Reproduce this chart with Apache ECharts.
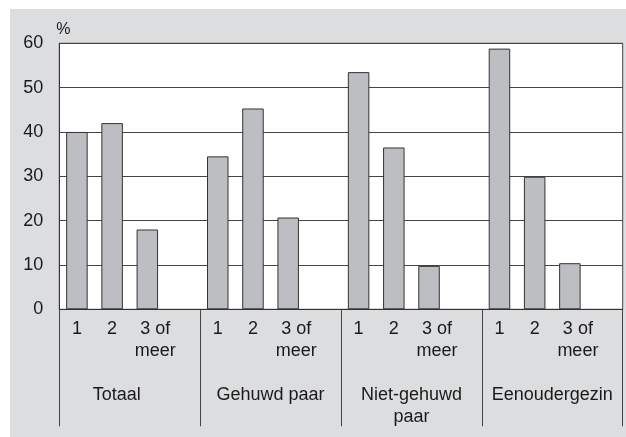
<!DOCTYPE html>
<html>
<head>
<meta charset="utf-8">
<script src="https://cdn.jsdelivr.net/npm/echarts@6/dist/echarts.min.js"></script>
<style>
html,body{margin:0;padding:0;background:#fff;}
#chart{position:absolute;left:10px;top:9px;width:616px;height:428px;}
</style>
</head>
<body>
<div id="chart"></div>
<script>
// Data
var groups = ['Totaal', 'Gehuwd paar', 'Niet-gehuwd\npaar', 'Eenoudergezin'];
var sizes = ['1', '2', '3 of\nmeer'];
var totaal = [40, 42, 18];
var gehuwdPaar = [34.5, 45.3, 20.7];
var nietGehuwdPaar = [53.5, 36.5, 9.8];
var eenoudergezin = [58.8, 29.9, 10.4];
var yTicks = [0, 10, 20, 30, 40, 50, 60];

var groupValues = [totaal, gehuwdPaar, nietGehuwdPaar, eenoudergezin];
var cats = [], vals = [];
groupValues.forEach(function (g, gi) {
  sizes.forEach(function (s, si) {
    cats.push(s);
    vals.push(g[si]);
  });
  cats.push(' ' + gi); // empty spacer slot
  vals.push('-');
});

var font = "'Liberation Sans', Arial, Helvetica, sans-serif";
var FS = 18;
var chart = echarts.init(document.getElementById('chart'));
chart.setOption({
  backgroundColor: '#dcdddf',
  animation: false,
  textStyle: { fontFamily: font },
  grid: {
    left: 49.3, top: 34.3, right: 3.3, bottom: 127.7,
    show: true, backgroundColor: '#ffffff', borderColor: '#444', borderWidth: 1,
    containLabel: false
  },
  xAxis: [{
    type: 'category',
    data: cats,
    position: 'bottom',
    axisLine: { show: true, lineStyle: { color: '#333', width: 1 } },
    axisTick: { show: false },
    axisLabel: {
      interval: 0, fontSize: FS, color: '#1a1a1a', fontFamily: font,
      lineHeight: 22, margin: 9,
      formatter: function (v) {
        if (v.charAt(0) === ' ') return '';
        if (v.indexOf('\n') >= 0) {
          return v.split('\n').map(function (l) { return '{o|' + l + '}'; }).join('\n');
        }
        return v;
      },
      rich: { o: { fontSize: FS, lineHeight: 22, color: '#1a1a1a', fontFamily: font, padding: [0, 0, 0, 16] } }
    },
    splitLine: { show: false }
  }, {
    type: 'category',
    data: groups,
    position: 'bottom',
    axisLine: { show: false },
    axisTick: { show: true, length: 117, interval: 0, lineStyle: { color: '#444', width: 1 } },
    axisLabel: {
      interval: 0, fontSize: FS, color: '#1a1a1a', fontFamily: font,
      lineHeight: 22, margin: 75,
      formatter: function (v, i) { return i === 0 ? '{t|' + v + '}' : v; },
      rich: { t: { fontSize: FS, lineHeight: 22, color: '#1a1a1a', fontFamily: font, padding: [0, 26, 0, 0] } }
    },
    splitLine: { show: false }
  }],
  yAxis: {
    type: 'value',
    min: yTicks[0], max: yTicks[yTicks.length - 1], interval: 10,
    name: '%',
    nameLocation: 'end',
    nameGap: 6,
    nameTextStyle: { align: 'left', verticalAlign: 'bottom', fontSize: 16, color: '#1a1a1a', fontFamily: font, padding: [0, 0, 0, -3] },
    axisLine: { show: true, lineStyle: { color: '#333', width: 1 } },
    axisTick: { show: false },
    axisLabel: { fontSize: FS, color: '#1a1a1a', margin: 16, fontFamily: font },
    splitLine: { show: true, lineStyle: { color: '#444', width: 1 } }
  },
  series: [{
    type: 'bar',
    xAxisIndex: 0,
    data: vals,
    barWidth: 21.5,
    itemStyle: { color: '#bdbec2', borderColor: '#333', borderWidth: 1 }
  }]
});
</script>
</body>
</html>
